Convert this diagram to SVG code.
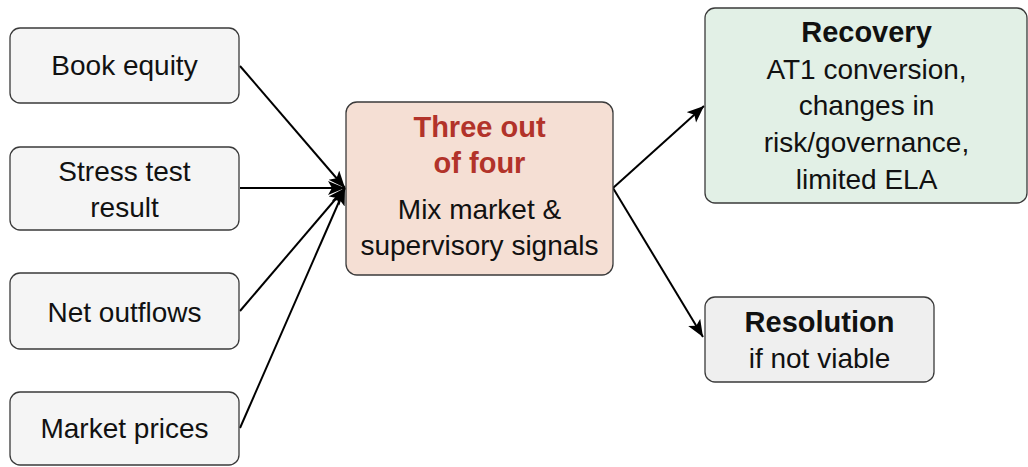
<svg xmlns="http://www.w3.org/2000/svg" width="1028" height="467" viewBox="0 0 1028 467">
<defs>
<marker id="arr" markerUnits="userSpaceOnUse" markerWidth="20" markerHeight="16" refX="17" refY="7" orient="auto">
<path d="M0,0 L17,7 L0,14 L4,7 Z" fill="#000"/>
</marker>
<style>
text{font-family:"Liberation Sans",Arial,sans-serif;font-size:28px;fill:#111;text-anchor:middle}
.b{font-weight:bold;font-size:29px}
.red{fill:#b2332a}
.box{stroke:#3a3a3a;stroke-width:1.3}
.in{fill:#f5f5f5}
.c{fill:#f5dfd4}
.rec{fill:#e2f0e6}
.res{fill:#efefef}
.e{stroke:#000;stroke-width:2;fill:none;marker-end:url(#arr)}
</style>
</defs>
<rect width="1028" height="467" fill="#fff"/>
<g id="connectors">
<line class="e" x1="240" y1="66" x2="345" y2="188"/>
<line class="e" x1="240" y1="188" x2="345" y2="188"/>
<line class="e" x1="240" y1="311" x2="345" y2="188"/>
<line class="e" x1="240" y1="428" x2="345" y2="188"/>
<line class="e" x1="613" y1="188" x2="704" y2="106"/>
<line class="e" x1="613" y1="188" x2="703" y2="337"/>
</g>
<g id="book-equity">
<rect class="box in" x="10" y="28" width="229" height="75" rx="10"/>
<text x="124.5" y="75">Book equity</text>
</g>
<g id="stress-test">
<rect class="box in" x="10" y="147" width="229" height="83" rx="10"/>
<text x="124.5" y="181">Stress test</text>
<text x="124.5" y="217">result</text>
</g>
<g id="net-outflows">
<rect class="box in" x="10" y="273" width="229" height="76" rx="10"/>
<text x="124.5" y="322">Net outflows</text>
</g>
<g id="market-prices">
<rect class="box in" x="10" y="392" width="229" height="73" rx="10"/>
<text x="124.5" y="438">Market prices</text>
</g>
<g id="three-of-four">
<rect class="box c" x="346" y="102" width="267" height="173" rx="11"/>
<text class="b red" x="479.5" y="137">Three out</text>
<text class="b red" x="479.5" y="173">of four</text>
<text x="479.5" y="219">Mix market &amp;</text>
<text x="479.5" y="255">supervisory signals</text>
</g>
<g id="recovery">
<rect class="box rec" x="705" y="8" width="322" height="195" rx="10"/>
<text class="b" x="866.5" y="42">Recovery</text>
<text x="866.5" y="79">AT1 conversion,</text>
<text x="866.5" y="115">changes in</text>
<text x="866.5" y="152">risk/governance,</text>
<text x="866.5" y="189">limited ELA</text>
</g>
<g id="resolution">
<rect class="box res" x="705" y="297" width="229" height="85" rx="10"/>
<text class="b" x="819.5" y="332">Resolution</text>
<text x="819.5" y="368">if not viable</text>
</g>
</svg>
